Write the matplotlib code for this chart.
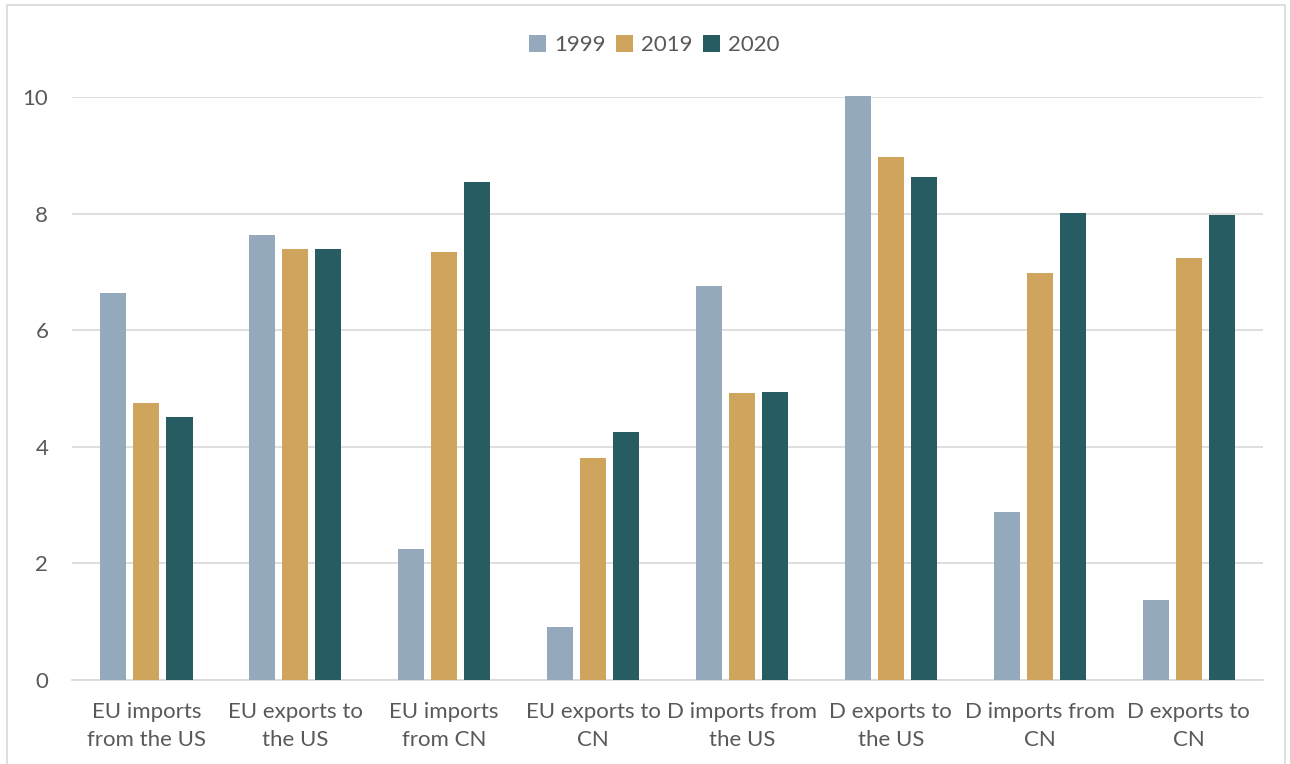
import numpy as np
import matplotlib.pyplot as plt
from matplotlib.patches import Rectangle

plt.rcParams['font.family'] = ['Lato', 'DejaVu Sans']

categories = ["EU imports\nfrom the US", "EU exports to\nthe US", "EU imports\nfrom CN",
              "EU exports to\nCN", "D imports from\nthe US", "D exports to\nthe US",
              "D imports from\nCN", "D exports to\nCN"]
years = ["1999", "2019", "2020"]
v1999 = [6.64, 7.63, 2.24, 0.91, 6.75, 10.02, 2.88, 1.37]
v2019 = [4.75, 7.39, 7.34, 3.81, 4.92, 8.97, 6.98, 7.24]
v2020 = [4.51, 7.40, 8.54, 4.25, 4.94, 8.62, 8.01, 7.98]
colors = ['#94A9BC', '#CFA55E', '#285C63']

fig = plt.figure(figsize=(12.9, 7.64), dpi=100)
ax = fig.add_axes([0.0558, 0.11, 0.9233, 0.763])

x = np.arange(len(categories))
step = 0.222
width = 0.175
for i, (vals, lab) in enumerate(zip([v1999, v2019, v2020], years)):
    ax.bar(x + (i - 1) * step, vals, width, color=colors[i], label=lab, zorder=3, clip_on=False)

ax.set_xlim(-0.5, len(categories) - 0.5)
ax.set_ylim(0, 10)
ax.set_yticks([0, 2, 4, 6, 8, 10])
ax.grid(axis='y', color='#D9D9D9', linewidth=1.2, zorder=0)
for s in ['top', 'right', 'left']:
    ax.spines[s].set_visible(False)
ax.spines['bottom'].set_color('#D9D9D9')
ax.spines['bottom'].set_linewidth(1.2)
ax.set_xticks(x)
ax.set_xticklabels(categories, linespacing=1.5)
ax.tick_params(axis='both', length=0, labelsize=16, labelcolor='#595959')
ax.tick_params(axis='x', pad=16)
ax.tick_params(axis='y', pad=17)

ax.legend(loc='center', bbox_to_anchor=(0.489, 1.089), ncol=3, frameon=False,
          fontsize=16, labelcolor='#595959', handlelength=0.75, handleheight=0.75,
          columnspacing=0.5, handletextpad=0.35)

fig.patches.append(Rectangle((7 / 1290, -0.01), 1 - 12 / 1290, 1 - 5 / 764 + 0.01,
                             transform=fig.transFigure, fill=False,
                             edgecolor='#D9D9D9', linewidth=1.2))

fig.savefig('out.png', dpi=100)
